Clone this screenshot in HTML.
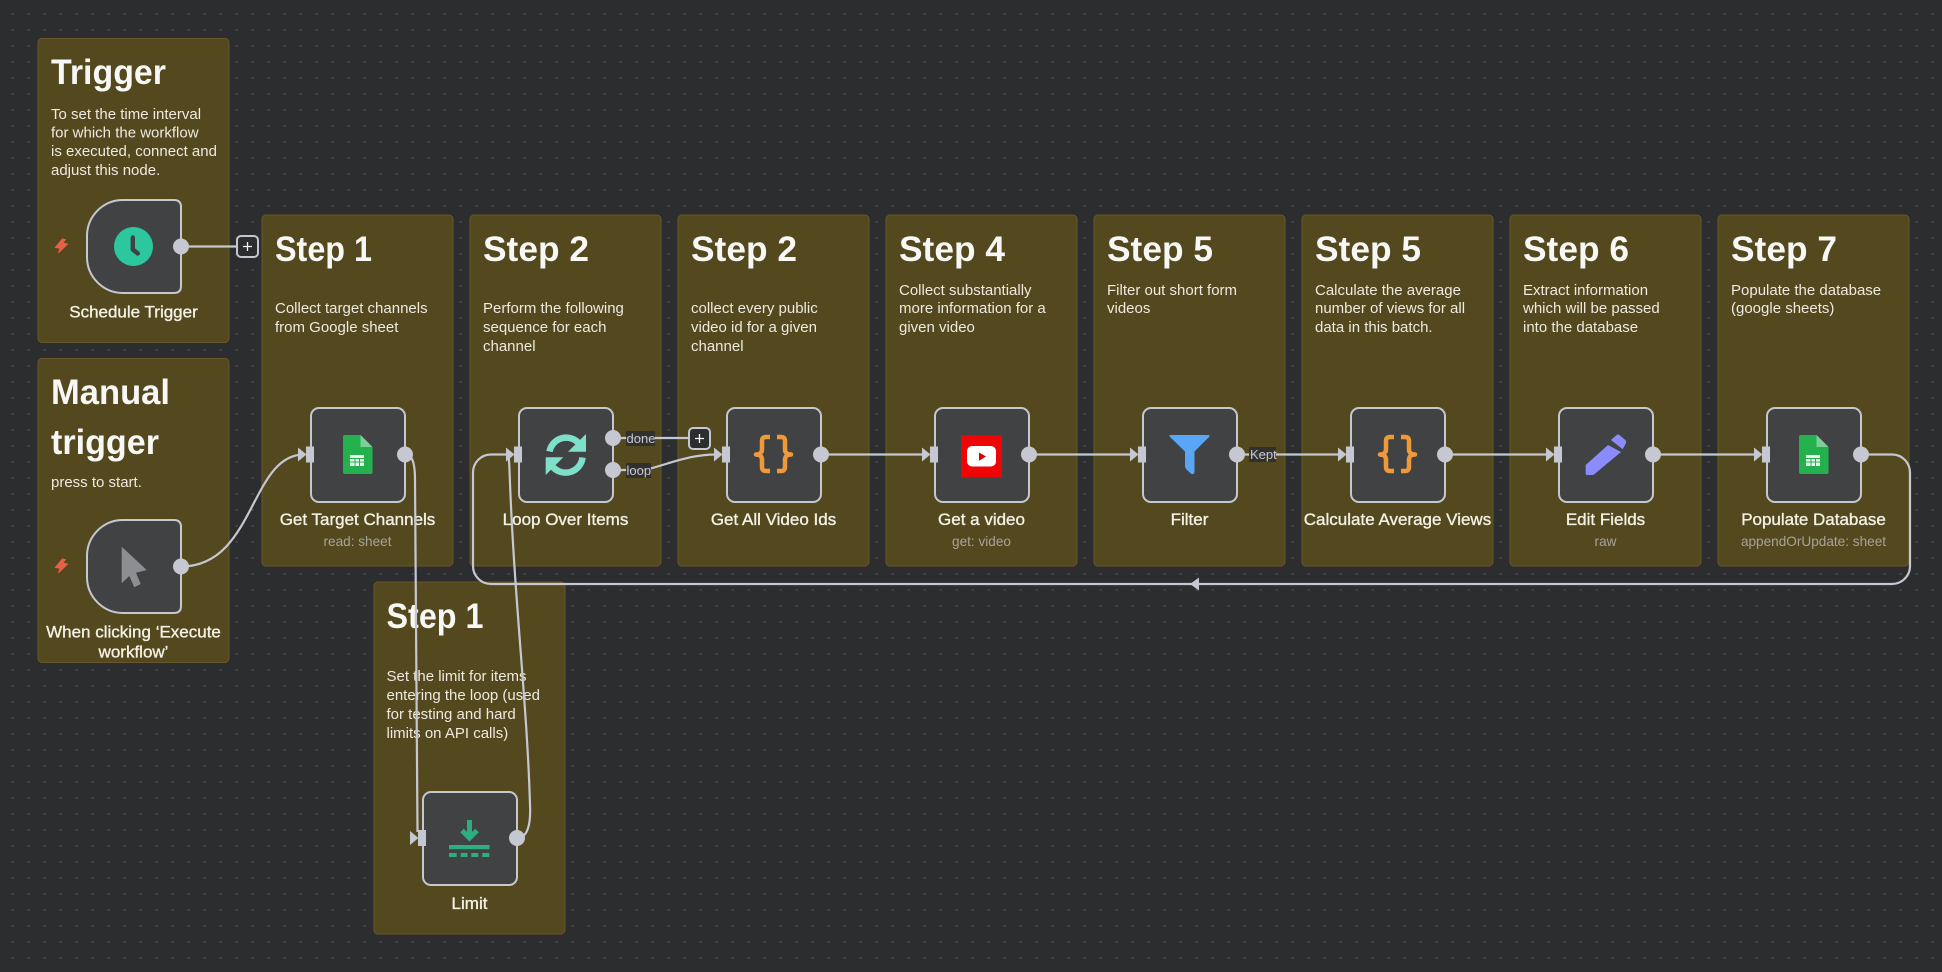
<!DOCTYPE html>
<html><head><meta charset="utf-8"><style>
html,body{margin:0;padding:0;width:1942px;height:972px;overflow:hidden;background-color:#2b2d2f;
background-image:radial-gradient(circle at 8px 8px,#47494c 0.9px,transparent 1.3px);background-size:16px 16px;background-position:4.7px 6px}
svg{position:absolute;left:0;top:0;font-family:"Liberation Sans",sans-serif}
.st{fill:#54481f;stroke:#66582a;stroke-width:1}
.h{font-size:35.5px;font-weight:700;fill:#f7f7f5}
.b{font-size:15px;fill:#eeeae0}
.l{font-size:17px;fill:#f4f1e6;text-anchor:middle;stroke:#f4f1e6;stroke-width:.35px}
.s{font-size:13.6px;fill:#a6a49a;text-anchor:middle}
.e{fill:none;stroke:#c6c8d1;stroke-width:2.2}
.n{fill:#414244;stroke:#c6c8d1;stroke-width:2}
.a{fill:#c6c8d1}
.t{font-size:13px;fill:#c6c8d1}
.p{fill:#2b2d2f;stroke:#c6c8d1;stroke-width:2}
.bg{fill:#2b2d2f;opacity:.85}
</style></head><body>
<svg width="1942" height="972" viewBox="0 0 1942 972" xmlns="http://www.w3.org/2000/svg">
<!-- stickies -->
<rect class="st" x="38" y="38.5" width="191" height="304" rx="4"/>
<rect class="st" x="38" y="358.5" width="191" height="304" rx="4"/>
<rect class="st" x="262" y="215" width="191" height="351" rx="4"/>
<rect class="st" x="470" y="215" width="191" height="351" rx="4"/>
<rect class="st" x="678" y="215" width="191" height="351" rx="4"/>
<rect class="st" x="886" y="215" width="191" height="351" rx="4"/>
<rect class="st" x="1094" y="215" width="191" height="351" rx="4"/>
<rect class="st" x="1302" y="215" width="191" height="351" rx="4"/>
<rect class="st" x="1510" y="215" width="191" height="351" rx="4"/>
<rect class="st" x="1718" y="215" width="191" height="351" rx="4"/>
<rect class="st" x="374" y="582" width="191" height="352" rx="4"/>

<!-- sticky text -->
<text class="h" x="51" y="84" textLength="115" lengthAdjust="spacingAndGlyphs">Trigger</text>
<text class="b" x="51" y="119">To set the time interval</text>
<text class="b" x="51" y="137.500">for which the workflow</text>
<text class="b" x="51" y="156">is executed, connect and</text>
<text class="b" x="51" y="175">adjust this node.</text>
<text class="h" x="51" y="404" textLength="119" lengthAdjust="spacingAndGlyphs">Manual</text>
<text class="h" x="51" y="454" textLength="108" lengthAdjust="spacingAndGlyphs">trigger</text>
<text class="b" x="51" y="487">press to start.</text>

<text class="h" x="275" y="261" textLength="97" lengthAdjust="spacingAndGlyphs">Step 1</text>
<text class="b" x="275" y="313">Collect target channels</text>
<text class="b" x="275" y="332">from Google sheet</text>

<text class="h" x="483" y="261" textLength="106" lengthAdjust="spacingAndGlyphs">Step 2</text>
<text class="b" x="483" y="313">Perform the following</text>
<text class="b" x="483" y="332">sequence for each</text>
<text class="b" x="483" y="351">channel</text>

<text class="h" x="691" y="261" textLength="106" lengthAdjust="spacingAndGlyphs">Step 2</text>
<text class="b" x="691" y="313">collect every public</text>
<text class="b" x="691" y="332">video id for a given</text>
<text class="b" x="691" y="351">channel</text>

<text class="h" x="899" y="261" textLength="106" lengthAdjust="spacingAndGlyphs">Step 4</text>
<text class="b" x="899" y="295">Collect substantially</text>
<text class="b" x="899" y="313">more information for a</text>
<text class="b" x="899" y="332">given video</text>

<text class="h" x="1107" y="261" textLength="106" lengthAdjust="spacingAndGlyphs">Step 5</text>
<text class="b" x="1107" y="295">Filter out short form</text>
<text class="b" x="1107" y="313">videos</text>

<text class="h" x="1315" y="261" textLength="106" lengthAdjust="spacingAndGlyphs">Step 5</text>
<text class="b" x="1315" y="295">Calculate the average</text>
<text class="b" x="1315" y="313">number of views for all</text>
<text class="b" x="1315" y="332">data in this batch.</text>

<text class="h" x="1523" y="261" textLength="106" lengthAdjust="spacingAndGlyphs">Step 6</text>
<text class="b" x="1523" y="295">Extract information</text>
<text class="b" x="1523" y="313">which will be passed</text>
<text class="b" x="1523" y="332">into the database</text>

<text class="h" x="1731" y="261" textLength="106" lengthAdjust="spacingAndGlyphs">Step 7</text>
<text class="b" x="1731" y="295">Populate the database</text>
<text class="b" x="1731" y="313">(google sheets)</text>

<text class="h" x="386.500" y="628" textLength="97" lengthAdjust="spacingAndGlyphs">Step 1</text>
<text class="b" x="386.500" y="681">Set the limit for items</text>
<text class="b" x="386.500" y="700">entering the loop (used</text>
<text class="b" x="386.500" y="719">for testing and hard</text>
<text class="b" x="386.500" y="738">limits on API calls)</text>

<!-- node labels -->
<text class="l" x="133.500" y="317.500">Schedule Trigger</text>
<text class="l" x="133.500" y="637.500">When clicking ‘Execute</text>
<text class="l" x="133.500" y="657.500">workflow’</text>
<text class="l" x="357.500" y="525">Get Target Channels</text>
<text class="s" x="357.500" y="546">read: sheet</text>
<text class="l" x="565.500" y="525">Loop Over Items</text>
<text class="l" x="773.500" y="525">Get All Video Ids</text>
<text class="l" x="981.500" y="525">Get a video</text>
<text class="s" x="981.500" y="546">get: video</text>
<text class="l" x="1189.500" y="525">Filter</text>
<text class="l" x="1397.500" y="525">Calculate Average Views</text>
<text class="l" x="1605.500" y="525">Edit Fields</text>
<text class="s" x="1605.500" y="546">raw</text>
<text class="l" x="1813.500" y="525">Populate Database</text>
<text class="s" x="1813.500" y="546">appendOrUpdate: sheet</text>
<text class="l" x="469.500" y="909">Limit</text>

<!-- edges -->
<path class="e" d="M181 246.500H238"/>
<path class="e" d="M181 566.500C255 566.500 250 454.500 304 454.500"/>
<path class="e" d="M405 454.500C412 454.500 415 462 415 480L417.500 832"/>
<path class="e" d="M517 838C527 838 531 826 530 805C527 700 514 600 509.500 470C509 460 509 455 507 454.500"/>
<path class="e" d="M1861 454.500H1892A18 18 0 0 1 1910 472.500V566A18 18 0 0 1 1892 584H491A18 18 0 0 1 473 566V472.500A18 18 0 0 1 491 454.500H510"/>
<path class="e" d="M613 438H690"/>
<path class="e" d="M613 470H645C672 463 690 454.500 716 454.500"/>
<path class="e" d="M821 454.500H926"/>
<path class="e" d="M1029 454.500H1134"/>
<path class="e" d="M1237 454.500H1342"/>
<path class="e" d="M1445 454.500H1550"/>
<path class="e" d="M1653 454.500H1758"/>
<polygon class="a" points="1190,584 1199,577.500 1199,590.500"/>

<!-- edge labels -->
<rect class="bg" x="626" y="431" width="29" height="15"/>
<text class="t" x="626.500" y="443">done</text>
<rect class="bg" x="626" y="463" width="25" height="15"/>
<text class="t" x="626.500" y="475">loop</text>
<rect class="bg" x="1249" y="447" width="27" height="15"/>
<text class="t" x="1250" y="459">Kept</text>

<!-- plus buttons -->
<rect class="p" x="237" y="236" width="21" height="21" rx="4"/>
<path d="M243 246.500H252M247.500 242V251" stroke="#f2f2f2" stroke-width="1.300" fill="none"/>
<rect class="p" x="689" y="428" width="21" height="21" rx="4"/>
<path d="M695 438.500H704M699.500 434V443" stroke="#f2f2f2" stroke-width="1.300" fill="none"/>

<!-- nodes -->
<path class="n" d="M123 200H174Q181 200 181 207V286Q181 293 174 293H123A36 36 0 0 1 87 257V236A36 36 0 0 1 123 200Z"/>
<path class="n" d="M123 520H174Q181 520 181 527V606Q181 613 174 613H123A36 36 0 0 1 87 577V556A36 36 0 0 1 123 520Z"/>
<rect class="n" x="311" y="408" width="94" height="94" rx="8"/>
<rect class="n" x="519" y="408" width="94" height="94" rx="8"/>
<rect class="n" x="727" y="408" width="94" height="94" rx="8"/>
<rect class="n" x="935" y="408" width="94" height="94" rx="8"/>
<rect class="n" x="1143" y="408" width="94" height="94" rx="8"/>
<rect class="n" x="1351" y="408" width="94" height="94" rx="8"/>
<rect class="n" x="1559" y="408" width="94" height="94" rx="8"/>
<rect class="n" x="1767" y="408" width="94" height="94" rx="8"/>
<rect class="n" x="423" y="792" width="94" height="93" rx="8"/>

<!-- handles: outputs -->
<g class="a">
<circle cx="181" cy="246.500" r="8"/><circle cx="181" cy="566.500" r="8"/>
<circle cx="405" cy="454.500" r="8"/><circle cx="613" cy="438" r="8"/><circle cx="613" cy="470" r="8"/>
<circle cx="821" cy="454.500" r="8"/><circle cx="1029" cy="454.500" r="8"/><circle cx="1237" cy="454.500" r="8"/>
<circle cx="1445" cy="454.500" r="8"/><circle cx="1653" cy="454.500" r="8"/><circle cx="1861" cy="454.500" r="8"/>
<circle cx="517" cy="838" r="8"/>
<!-- inputs -->
<rect x="306" y="446.500" width="8" height="16"/><polygon points="298,447.500 306.500,454.500 298,461.500"/>
<rect x="514" y="446.500" width="8" height="16"/><polygon points="506,447.500 514.500,454.500 506,461.500"/>
<rect x="722" y="446.500" width="8" height="16"/><polygon points="714,447.500 722.500,454.500 714,461.500"/>
<rect x="930" y="446.500" width="8" height="16"/><polygon points="922,447.500 930.500,454.500 922,461.500"/>
<rect x="1138" y="446.500" width="8" height="16"/><polygon points="1130,447.500 1138.500,454.500 1130,461.500"/>
<rect x="1346" y="446.500" width="8" height="16"/><polygon points="1338,447.500 1346.500,454.500 1338,461.500"/>
<rect x="1554" y="446.500" width="8" height="16"/><polygon points="1546,447.500 1554.500,454.500 1546,461.500"/>
<rect x="1762" y="446.500" width="8" height="16"/><polygon points="1754,447.500 1762.500,454.500 1754,461.500"/>
<rect x="418" y="830" width="8" height="16"/><polygon points="410,831 418.500,838 410,845"/>
</g>

<!-- bolts -->
<path fill="#e8604a" stroke="#e8604a" stroke-width=".8" stroke-linejoin="round" d="M62.500 238.800L55.200 247.500L60 248.300L58.500 252.800L67.800 244L63 243L65.500 239.500Z"/>
<path fill="#e8604a" stroke="#e8604a" stroke-width=".8" stroke-linejoin="round" d="M62.500 558.800L55.200 567.500L60 568.300L58.500 572.800L67.800 564L63 563L65.500 559.500Z"/>

<!-- clock -->
<circle cx="133.500" cy="246.500" r="19.500" fill="#2cc79c"/>
<path d="M132.800 237.500V249.500L137.800 253.500" fill="none" stroke="#3f4144" stroke-width="4.400" stroke-linecap="round" stroke-linejoin="round"/>

<!-- cursor -->
<polygon fill="#8d8e92" points="121.700,546.700 146.700,570 136,572.700 140.700,584 134.300,587.300 129.300,576 121.700,583.300"/>

<!-- sheets -->
<g>
<path fill="#23b14d" d="M345 435H360.500L372.500 447V472Q372.500 474 370.500 474H345Q343 474 343 472V437Q343 435 345 435Z"/>
<path fill="#7ad096" d="M360.500 435L372.500 447H360.500Z"/>
<rect x="350" y="455" width="14" height="11" fill="#eaf7ee"/>
<path d="M350 458.500H364M350 462H364M355 458V466M359.500 458V466" stroke="#23b14d" stroke-width="1"/>
</g>
<g transform="translate(1456 0)">
<path fill="#23b14d" d="M345 435H360.500L372.500 447V472Q372.500 474 370.500 474H345Q343 474 343 472V437Q343 435 345 435Z"/>
<path fill="#7ad096" d="M360.500 435L372.500 447H360.500Z"/>
<rect x="350" y="455" width="14" height="11" fill="#eaf7ee"/>
<path d="M350 458.500H364M350 462H364M355 458V466M359.500 458V466" stroke="#23b14d" stroke-width="1"/>
</g>

<!-- loop icon -->
<g fill="none" stroke="#7fe0c9" stroke-width="6.500">
<path d="M549.500 451.500A17 17 0 0 1 579 443.500"/>
<path d="M582.500 457.500A17 17 0 0 1 552.500 466.500"/>
</g>
<polygon fill="#7fe0c9" points="586,434 586,451.700 568,451.700"/>
<polygon fill="#7fe0c9" points="545.700,475 545.700,457.300 563.300,457.300"/>

<!-- braces -->
<g fill="none" stroke="#f0993a" stroke-width="4.500" stroke-linejoin="round">
<path d="M770 437H766Q762 437 762 441V449Q762 454.500 756 454.500Q762 454.500 762 460V467Q762 471 766 471H770"/>
<path d="M777 437H781Q785 437 785 441V449Q785 454.500 791 454.500Q785 454.500 785 460V467Q785 471 781 471H777"/>
</g>
<g fill="none" stroke="#f0993a" stroke-width="4.500" stroke-linejoin="round" transform="translate(624 0)">
<path d="M770 437H766Q762 437 762 441V449Q762 454.500 756 454.500Q762 454.500 762 460V467Q762 471 766 471H770"/>
<path d="M777 437H781Q785 437 785 441V449Q785 454.500 791 454.500Q785 454.500 785 460V467Q785 471 781 471H777"/>
</g>

<!-- youtube -->
<rect x="961" y="435.500" width="41" height="42" fill="#ee0505"/>
<rect x="967" y="446" width="29" height="20.500" rx="5" fill="#fff"/>
<polygon points="979,452.500 979,460.700 986,456.500" fill="#d80000"/>

<!-- filter -->
<path fill="#58a6f5" d="M1170.500 435H1208.500Q1210.500 435 1209 437L1194.500 451.500V472Q1194.500 474.500 1191.500 474L1187 470Q1185 468 1185 466V451.500L1170 437Q1168.500 435 1170.500 435Z"/>

<!-- pencil -->
<path fill="#8b8bfb" d="M1585.700 465L1608 445L1621 452L1594 474.500Q1593.500 475 1592 475H1587Q1585.700 475 1585.700 473.500Z"/>
<path fill="#8b8bfb" d="M1611 440L1616 435.500Q1618 433.500 1620 435.500L1625.300 440Q1627 442 1625.500 444L1622.700 449.300Z"/>

<!-- limit -->
<g fill="#2eae7f">
<path d="M469.500 820V838" stroke="#2eae7f" stroke-width="5" fill="none"/>
<path d="M462 830.500L469.500 838L477 830.500" stroke="#2eae7f" stroke-width="5" fill="none"/>
<rect x="449" y="845" width="40.500" height="4.200"/>
<rect x="449" y="853" width="7.700" height="4"/><rect x="460.700" y="853" width="6.800" height="4"/>
<rect x="471.300" y="853" width="7" height="4"/><rect x="482.300" y="853" width="7" height="4"/>
</g>
</svg>
</body></html>
